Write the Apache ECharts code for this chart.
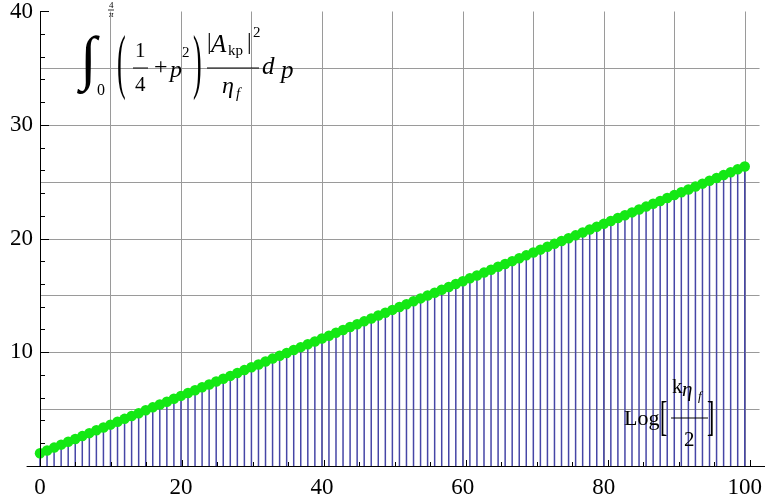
<!DOCTYPE html>
<html>
<head>
<meta charset="utf-8">
<script src="https://cdn.jsdelivr.net/npm/echarts@6/dist/echarts.min.js"></script>
<style>html,body{margin:0;padding:0;background:#fff}#c{width:765px;height:502px}</style>
</head>
<body>
<div id="c"></div>
<script>
// y values at x = 0, 1, 2, ..., 100
const values = [
 1.12, 1.37, 1.62, 1.88, 2.13, 2.38, 2.63, 2.89, 3.14, 3.39,
 3.64, 3.90, 4.15, 4.40, 4.65, 4.91, 5.16, 5.41, 5.66, 5.92,
 6.17, 6.42, 6.67, 6.93, 7.18, 7.43, 7.68, 7.93, 8.19, 8.44,
 8.69, 8.94, 9.20, 9.45, 9.70, 9.95, 10.21, 10.46, 10.71, 10.96,
 11.22, 11.47, 11.72, 11.97, 12.23, 12.48, 12.73, 12.98, 13.24, 13.49,
 13.74, 13.99, 14.24, 14.50, 14.75, 15.00, 15.25, 15.51, 15.76, 16.01,
 16.26, 16.52, 16.77, 17.02, 17.27, 17.53, 17.78, 18.03, 18.28, 18.54,
 18.79, 19.04, 19.29, 19.55, 19.80, 20.05, 20.30, 20.55, 20.81, 21.06,
 21.31, 21.56, 21.82, 22.07, 22.32, 22.57, 22.83, 23.08, 23.33, 23.58,
 23.84, 24.09, 24.34, 24.59, 24.85, 25.10, 25.35, 25.60, 25.86, 26.11,
 26.36
];
const xTickLabels = [0, 20, 40, 60, 80, 100];
const yTickLabels = [10, 20, 30, 40];

const points = values.map((v, i) => [i, v]);
const serif = 'Liberation Serif';
const chart = echarts.init(document.getElementById('c'), null, {renderer: 'canvas'});

function txt(text, x, y, size, italic, sy) {
  return {
    type: 'text', z: 100, x: x, y: y, scaleX: 1, scaleY: sy || 1, originX: 0, originY: 0,
    style: {text: text, x: 0, y: 0, fill: '#000',
      fontSize: size, fontFamily: serif, fontStyle: italic ? 'italic' : 'normal',
      align: 'left', verticalAlign: 'middle'}
  };
}
function hline(x1, x2, y, w) {
  return {type: 'line', z: 100, shape: {x1: x1, y1: y, x2: x2, y2: y}, style: {stroke: '#000', lineWidth: w || 1}};
}

const axisFont = {fontFamily: serif, fontSize: 23, color: '#000'};
const gridLine = {show: true, showMinLine: false, showMaxLine: false, lineStyle: {color: '#9a9a9a', width: 1}};

chart.setOption({
  animation: false,
  backgroundColor: '#fff',
  grid: [
    {left: 40, right: 0, top: 11, bottom: 36},
    {left: 27, right: 0, top: 11, bottom: 36},
    {left: 40, right: 15, top: 11, bottom: 36}
  ],
  xAxis: [
    // data axis with grid lines every 10 and labels every 20
    {type: 'value', gridIndex: 0, min: 0, max: 102.1, interval: 10,
     axisLine: {show: false}, axisTick: {show: false},
     axisLabel: Object.assign({margin: 10, showMaxLabel: false,
       formatter: v => xTickLabels.indexOf(v) >= 0 ? String(v) : ''}, axisFont),
     splitLine: gridLine},
    // tick marks
    {type: 'value', gridIndex: 2, min: 0, max: 100, interval: 20, position: 'bottom', z: 10,
     axisLine: {show: false}, axisLabel: {show: false}, splitLine: {show: false},
     axisTick: {show: true, inside: true, length: 6, lineStyle: {color: '#000'}},
     minorTick: {show: true, splitNumber: 4, length: 4, lineStyle: {color: '#000'}}},
    // axis line extending left of the y axis
    {type: 'value', gridIndex: 1, min: 0, max: 1, position: 'bottom', z: 10,
     axisLine: {show: true, lineStyle: {color: '#000', width: 1}},
     axisTick: {show: false}, axisLabel: {show: false}, splitLine: {show: false}}
  ],
  yAxis: [
    {type: 'value', gridIndex: 0, min: 0, max: 40, interval: 10, position: 'left', z: 10,
     axisLine: {show: true, lineStyle: {color: '#000', width: 1}},
     axisTick: {show: true, inside: true, length: 9, lineStyle: {color: '#000'}},
     minorTick: {show: true, splitNumber: 5, length: 5, lineStyle: {color: '#000'}},
     axisLabel: Object.assign({margin: 7,
       formatter: v => yTickLabels.indexOf(v) >= 0 ? String(v) : ''}, axisFont),
     splitLine: {show: false}},
    {type: 'value', gridIndex: 0, min: 0, max: 40, interval: 5, position: 'left', offset: 0,
     axisLine: {show: false}, axisLabel: {show: false}, axisTick: {show: false},
     splitLine: gridLine},
    {type: 'value', gridIndex: 1, min: 0, max: 1, show: false},
    {type: 'value', gridIndex: 2, min: 0, max: 1, show: false}
  ],
  series: [
    {type: 'bar', xAxisIndex: 0, yAxisIndex: 0, data: points, barWidth: 1.5,
     itemStyle: {color: '#4646a6'}, z: 2},
    {type: 'scatter', xAxisIndex: 0, yAxisIndex: 0, data: points, symbolSize: 10.5,
     itemStyle: {color: '#14e814', opacity: 1}, z: 3}
  ],
  graphic: [
    // formula
    txt('\u222B', 80, 62, 60, false),
    txt('0', 97, 91, 16, false),
    txt('4', 109, 6, 9, false),
    hline(108, 114, 10, 0.8),
    txt('\u03C0', 109, 15, 9, true),
    txt('(', 117, 66, 26, false, 2.8),
    txt('1', 135, 51, 21, false),
    hline(133, 148, 68, 1),
    txt('4', 135, 85, 21, false),
    txt('+', 154, 68, 24, false),
    txt('p', 170, 71, 24, true),
    txt('2', 182, 53, 15, false),
    txt(')', 193, 66, 26, false, 2.8),
    txt('|', 207, 43, 23, false),
    txt('A', 211, 45, 25, true),
    txt('kp', 228, 51, 15, false),
    txt('|', 247, 43, 23, false),
    txt('2', 253, 33, 15, false),
    hline(207, 259, 68, 1),
    txt('\u03B7', 222, 87, 24, true),
    txt('f', 236, 94, 15, true),
    txt('d', 262, 67, 25, true),
    txt('p', 281, 71, 25, true),
    // x axis label
    txt('Log', 624, 419, 22, false),
    txt('[', 660, 419, 22, false, 1.9),
    txt('k', 672, 387, 21, false),
    txt('\u03B7', 682, 390, 21, true),
    txt('f', 698, 397, 13, true),
    hline(671, 708, 418, 1),
    txt('2', 684, 440, 21, false),
    txt(']', 707, 419, 22, false, 1.9)
  ]
});
</script>
</body>
</html>
